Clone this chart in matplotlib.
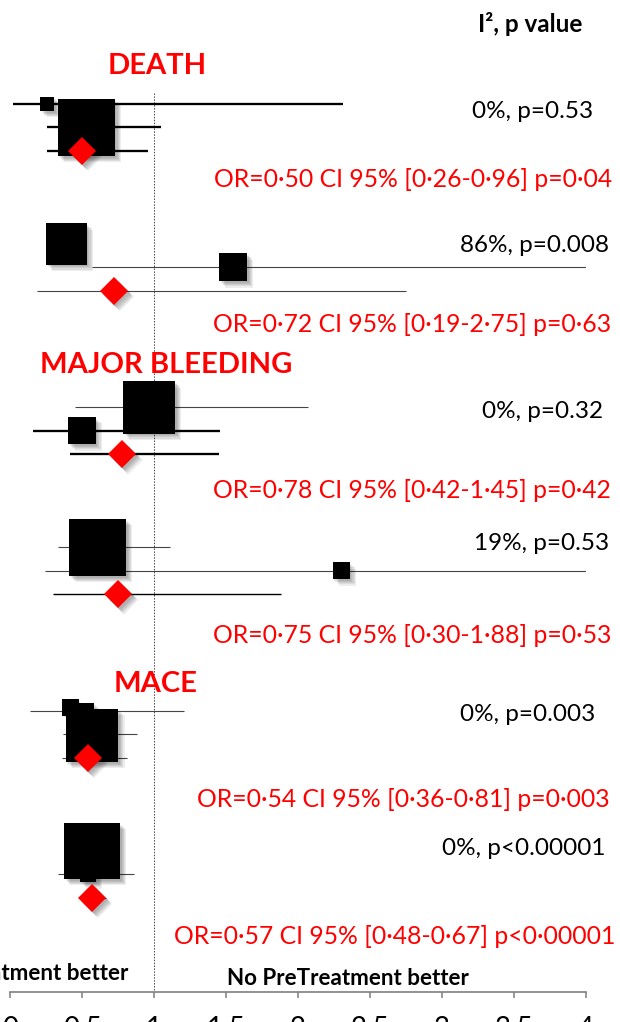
import matplotlib
matplotlib.use("Agg")
import matplotlib.pyplot as plt
import matplotlib.patheffects as pe
import numpy as np

plt.rcParams['font.family'] = ['Lato', 'DejaVu Sans']

outcomes = ["DEATH", "MAJOR BLEEDING", "MACE"]

# one entry per subgroup (two subgroups per outcome)
study_or = [[0.26, 0.53], [0.39, 1.55], [0.965, 0.50], [0.61, 2.30], [0.42, 0.53, 0.57], [0.57, 0.54]]
study_lo = [[0.02, 0.26], [0.28, 0.57], [0.45, 0.16], [0.33, 0.24], [0.14, 0.46, 0.37], [0.45, 0.33]]
study_hi = [[2.31, 1.05], [0.50, 4.60], [2.07, 1.46], [1.11, 5.20], [1.21, 0.60, 0.88], [0.72, 0.86]]
study_w = [[5.6, 93.3], [48.3, 22.5], [77.7, 21.0], [93.0, 8.3], [7.4, 7.4, 80.0], [90.0, 7.4]]

pooled_or = [0.50, 0.72, 0.78, 0.75, 0.54, 0.57]
pooled_lo = [0.26, 0.19, 0.42, 0.30, 0.36, 0.48]
pooled_hi = [0.96, 2.75, 1.45, 1.88, 0.81, 0.67]
pooled_p = ["p=0.04", "p=0.63", "p=0.42", "p=0.53", "p=0.003", "p<0.00001"]
het_text = ["0%, p=0.53", "86%, p=0.008", "0%, p=0.32", "19%, p=0.53", "0%, p=0.003", "0%, p<0.00001"]

tick_vals = [0, 0.5, 1, 1.5, 2, 2.5, 3, 3.5, 4]
tick_labels = ["0", "0.5", "1", "1.5", "2", "2.5", "3", "3.5", "4"]

# layout (pixels, figure is 620x1022)
W, H = 620, 1022
study_row = [[0, 1], [0, 1], [0, 1], [0, 1], [-0.15, 0, 1.05], [0, 1]]
study_lw = [[2.3, 2.3], [1.1, 1.1], [1.1, 2.3], [1.1, 1.1], [1.1, 1.1, 1.1], [1.1, 1.1]]
pooled_lw = [2.3, 1.1, 2.3, 1.4, 1.1, 1.1]
row_gap = 23.4
head_xy = [(157, 74), (166, 373), (156, 692)]
het_xy = [(593, 118), (609, 252), (603, 418), (609, 550), (595, 721), (606, 855)]
or_xy = [(612, 187), (611, 332), (611, 498), (611, 643), (610, 807), (615, 944)]

def px2pt(v):
    return v * 72 / 100

fig = plt.figure(figsize=(6.2, 10.22), dpi=100)
ax = fig.add_axes([10 / W, 30 / H, 576 / W, 992 / H])
ax.set_xlim(0, 4)
ax.set_ylim(992, 0)

shadow = [pe.SimplePatchShadow(offset=(d, -d), shadow_rgbFace='k', alpha=0.07)
          for d in (1.2, 2.0, 2.8, 3.6, 4.4)] + [pe.Normal()]

ax.plot([1, 1], [93, 992], ls=(0, (1.5, 1.5)), lw=0.7, color='#444444', zorder=1)

for g in range(6):
    o, s = divmod(g, 2)
    base = 104 + o * 303.5 + s * 140
    for i in range(len(study_or[g])):
        y = base + round(study_row[g][i]) * row_gap
        lw = study_lw[g][i]
        col = 'black' if lw > 2 else '#444444'
        ax.plot([study_lo[g][i], study_hi[g][i]], [y, y], color=col, lw=px2pt(lw), zorder=2,
                solid_capstyle='butt')
    for i in range(len(study_or[g])):
        y = base + study_row[g][i] * row_gap
        side = 5.9 * np.sqrt(study_w[g][i])
        ax.plot(study_or[g][i], y, marker='s', ms=px2pt(side), color='black', mew=0,
                zorder=3, path_effects=shadow)
    yp = base + 2 * row_gap
    lw = pooled_lw[g]
    col = 'black' if lw > 1.3 else '#444444'
    ax.plot([pooled_lo[g], pooled_hi[g]], [yp, yp], color=col, lw=px2pt(lw), zorder=2,
            solid_capstyle='butt')
    ax.plot(pooled_or[g], yp, marker='D', ms=px2pt(20), color='#ff0000', mew=0,
            zorder=4, path_effects=shadow)

    label = f"OR={pooled_or[g]:.2f} CI 95% [{pooled_lo[g]:.2f}-{pooled_hi[g]:.2f}] {pooled_p[g]}"
    label = label.replace('.', '\u00b7')
    fig.text(or_xy[g][0] / W, 1 - or_xy[g][1] / H, label, color='#ff0000', fontsize=17.8,
             ha='right', va='baseline')
    fig.text(het_xy[g][0] / W, 1 - het_xy[g][1] / H, het_text[g], color='black', fontsize=17.5,
             ha='right', va='baseline')

for o, name in enumerate(outcomes):
    fig.text(head_xy[o][0] / W, 1 - head_xy[o][1] / H, name, color='#ff0000', fontsize=21,
             fontweight='bold', ha='center', va='baseline')

fig.text(530 / W, 1 - 32 / H, "I\u00b2, p value", fontsize=17.5, fontweight='bold',
         ha='center', va='baseline')
fig.text(128 / W, 1 - 980 / H, "PreTreatment better", fontsize=16.1, fontweight='bold',
         ha='right', va='baseline')
fig.text(348 / W, 1 - 985 / H, "No PreTreatment better", fontsize=16.1, fontweight='bold',
         ha='center', va='baseline')

for side in ['top', 'right', 'left']:
    ax.spines[side].set_visible(False)
ax.spines['bottom'].set_bounds(0, 4)
ax.spines['bottom'].set_color('#7f7f7f')
ax.spines['bottom'].set_linewidth(1.2)
ax.set_yticks([])
ax.set_xticks(tick_vals)
ax.set_xticklabels(tick_labels)
ax.tick_params(axis='x', direction='out', length=4.5, width=1.1, color='#7f7f7f',
               labelsize=20, pad=13)
ax.patch.set_alpha(0)

fig.savefig("out.png", dpi=100)
